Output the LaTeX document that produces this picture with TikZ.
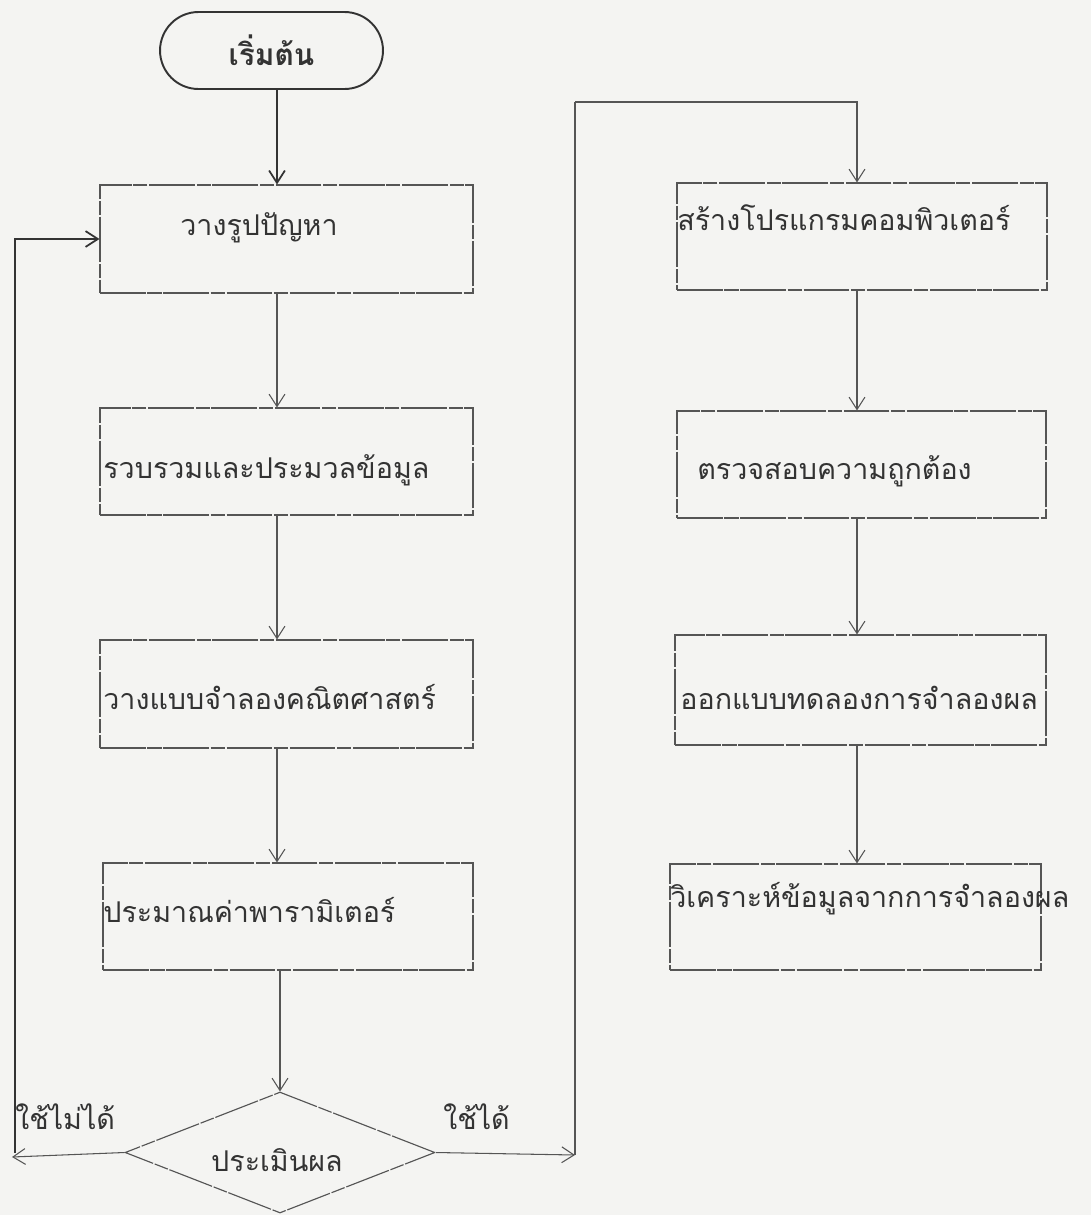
\documentclass[tikz,border=0pt]{standalone}
\usepackage{fontspec}
\newfontfamily\thai[Script=Thai]{Loma}
\usetikzlibrary{arrows.meta,shapes.geometric}
\definecolor{paper}{HTML}{F4F4F2}
\definecolor{ink}{HTML}{333333}
\definecolor{lineg}{HTML}{555555}
\begin{document}
\begin{tikzpicture}[x=0.02cm,y=-0.02cm,
  box/.style={draw=lineg, line width=0.65pt, dash pattern=on 26pt off 1pt on 8pt off 1pt, rectangle, inner sep=0pt},
  term/.style={draw=ink, line width=1.1pt, rectangle, rounded corners=0.77cm, inner sep=0pt,
    minimum width=4.46cm, minimum height=1.54cm, font=\thai\bfseries\fontsize{17}{19}\selectfont, text=ink},
  dia/.style={draw=lineg, line width=0.65pt, dash pattern=on 26pt off 1pt on 8pt off 1pt, diamond, inner sep=0pt,
    minimum width=6.2cm, minimum height=2.42cm},
  txt/.style={font=\thai\fontsize{16.3}{18}\selectfont, text=ink, inner sep=0pt},
  arr/.style={draw=lineg, line width=0.6pt, -{Straight Barb[length=7pt,width=9pt]}},
  sarr/.style={draw=ink, line width=1pt, -{Straight Barb[length=7pt,width=9pt]}}]
\fill[paper] (0,0) rectangle (1091,1215);
\useasboundingbox (0,0) rectangle (1091,1215);

% start
\node[term] (st) at (271.5,50.5) {เริ่มต้น};

% left column boxes
\node[box, minimum width=7.46cm, minimum height=2.16cm] (b1) at (286.5,239) {};
\node[box, minimum width=7.46cm, minimum height=2.14cm] (b2) at (286.5,461.5) {};
\node[box, minimum width=7.46cm, minimum height=2.16cm] (b3) at (286.5,694) {};
\node[box, minimum width=7.40cm, minimum height=2.14cm] (b4) at (288,916.5) {};
\node[dia] (dm) at (280,1152.5) {};

% right column boxes
\node[box, minimum width=7.40cm, minimum height=2.14cm] (r1) at (862,236.5) {};
\node[box, minimum width=7.38cm, minimum height=2.14cm] (r2) at (861.5,464.5) {};
\node[box, minimum width=7.42cm, minimum height=2.20cm] (r3) at (860.5,690) {};
\node[box, minimum width=7.42cm, minimum height=2.12cm] (r4) at (855.5,917) {};

% texts
\node[txt, anchor=west] (t1) at (180,228) {วางรูปปัญหา};
\node[txt, anchor=west] (t2) at (103,470) {รวบรวมและประมวลข้อมูล};
\node[txt, anchor=west] (t3) at (103,697) {วางแบบจำลองคณิตศาสตร์};
\node[txt, anchor=west] (t4) at (103,910) {ประมาณค่าพารามิเตอร์};
\node[txt] (td) at (277,1160) {ประเมินผล};
\node[txt, anchor=west] (u1) at (677,218) {สร้างโปรแกรมคอมพิวเตอร์};
\node[txt, anchor=west] (u2) at (697,471) {ตรวจสอบความถูกต้อง};
\node[txt, anchor=west] (u3) at (680,698) {ออกแบบทดลองการจำลองผล};
\node[txt, anchor=west] (u4) at (670,899) {วิเคราะห์ข้อมูลจากการจำลองผล};
\node[txt, anchor=west] (no) at (15,1117) {ใช้ไม่ได้};
\node[txt, anchor=west] (yes) at (443,1117) {ใช้ได้};

% helper coordinates
\coordinate (lx) at (277,0);
\coordinate (dx) at (280,0);
\coordinate (rx) at (857,0);
\coordinate (nl) at (12,1157);
\coordinate (nc) at (15,1153);
\coordinate (yr) at (575,1155);
\coordinate (yt) at (575,102);

% connectors
\draw[sarr] (st.south -| lx) -- (b1.north -| lx);
\draw[arr] (b1.south -| lx) -- (b2.north -| lx);
\draw[arr] (b2.south -| lx) -- (b3.north -| lx);
\draw[arr] (b3.south -| lx) -- (b4.north -| lx);
\draw[arr] (b4.south -| dx) -- (dm.north);
\draw[arr] (dm.west) -- (nl);
\draw[sarr] (nc) |- (b1.west);
\draw[arr] (dm.east) -- (yr);
\draw[draw=lineg, line width=0.6pt] (yr) -- (yt);
\draw[arr] (yt) -| (r1.north -| rx);
\draw[arr] (r1.south -| rx) -- (r2.north -| rx);
\draw[arr] (r2.south -| rx) -- (r3.north -| rx);
\draw[arr] (r3.south -| rx) -- (r4.north -| rx);
\end{tikzpicture}
\end{document}
